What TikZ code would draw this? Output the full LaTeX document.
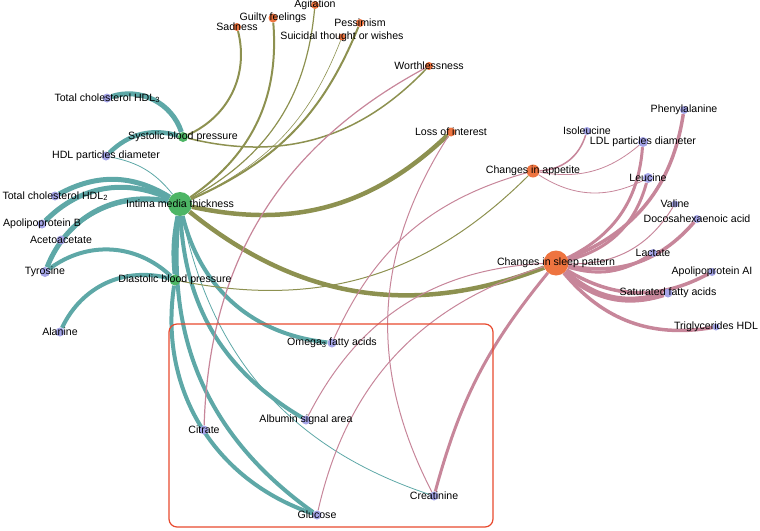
\documentclass[tikz,border=0pt]{standalone}
\usepackage{fontspec}
\setmainfont{Liberation Sans}
\usetikzlibrary{backgrounds}
\definecolor{tealc}{HTML}{5EA8A7}
\definecolor{olivec}{HTML}{8D9150}
\definecolor{pinkc}{HTML}{C7869A}
\definecolor{greenc}{HTML}{4DB565}
\definecolor{orangec}{HTML}{EE7440}
\definecolor{bluec}{HTML}{A5A5E8}
\definecolor{redc}{HTML}{E8492E}
\newcommand{\subthree}{\raisebox{-0.25ex}{\fontsize{7.5}{8}\selectfont 3}}
\newcommand{\subtwo}{\raisebox{-0.25ex}{\fontsize{7.5}{8}\selectfont 2}}
\tikzset{
  gnode/.style={circle, fill=greenc, inner sep=0, minimum size=#1},
  onode/.style={circle, fill=orangec, inner sep=0, minimum size=#1},
  bnode/.style={circle, fill=bluec, inner sep=0, minimum size=#1},
  lab/.style={font=\fontsize{10.6}{12}\selectfont, inner sep=0, text=black},
  te/.style={draw=tealc, line width=#1},
  ol/.style={draw=olivec, line width=#1},
  pk/.style={draw=pinkc, line width=#1},
  frame/.style={draw=redc, line width=1.2pt, rounded corners=8pt}
}
\begin{document}
\begin{tikzpicture}[x=1pt,y=-1pt]
\useasboundingbox (0,0) rectangle (760,530);
% nodes
\node[gnode=24pt] (imt) at (180,204) {};
\node[gnode=10pt] (sys) at (183,137) {};
\node[gnode=11pt] (dia) at (175,280) {};
\node[bnode=9pt] (hdlpd) at (106,156) {};
\node[bnode=9pt] (hdl3) at (107,98) {};
\node[bnode=9pt] (hdl2) at (55,196) {};
\node[bnode=9pt] (apob) at (42,224) {};
\node[bnode=9pt] (aceto) at (61,240) {};
\node[bnode=10pt] (tyr) at (45,272) {};
\node[bnode=9pt] (ala) at (60,332) {};
\node[onode=8pt] (sad) at (237,27) {};
\node[onode=9pt] (guilty) at (273,18) {};
\node[onode=8pt] (agit) at (315,5) {};
\node[onode=8pt] (pess) at (360,23) {};
\node[onode=7pt] (suic) at (342,37) {};
\node[onode=8pt] (worth) at (429,66) {};
\node[onode=9pt] (loss) at (451,132) {};
\node[onode=13pt] (app) at (533,171) {};
\node[onode=25pt] (sleep) at (556,263) {};
\node[bnode=8pt] (iso) at (587,131) {};
\node[bnode=10pt] (ldl) at (643,142) {};
\node[bnode=8pt] (phe) at (684,110) {};
\node[bnode=10pt] (leu) at (648,178) {};
\node[bnode=7pt] (val) at (675,204) {};
\node[bnode=8pt] (dha) at (697,219) {};
\node[bnode=8pt] (lac) at (653,253) {};
\node[bnode=8pt] (apoai) at (712,272) {};
\node[bnode=9pt] (sfa) at (668,293) {};
\node[bnode=7pt] (tg) at (716,327) {};
\node[bnode=9pt] (omega) at (332,343) {};
\node[bnode=9pt] (alb) at (306,420) {};
\node[bnode=9pt] (cit) at (204,430) {};
\node[bnode=9pt] (creat) at (434,496) {};
\node[bnode=9pt] (glu) at (317,515) {};
\begin{scope}[on background layer]
% teal edges
\draw[te=5pt] (hdl3) to[bend left=45] (sys);
\draw[te=4.5pt] (sys) to[bend right=30] (hdlpd);
\draw[te=0.8pt] (hdlpd) to[bend left=20] (imt);
\draw[te=5pt] (hdl2) to[bend left=30] (imt);
\draw[te=5pt] (apob) to[bend left=35] (imt);
\draw[te=0.8pt] (aceto) to[bend left=25] (imt);
\draw[te=5pt] (tyr) to[bend left=40] (imt);
\draw[te=4pt] (tyr) to[bend left=40] (dia);
\draw[te=4pt] (ala) to[bend left=40] (dia);
\draw[te=4pt] (imt) to[bend right=8] (dia);
\draw[te=4pt] (imt) to[bend right=35] (omega);
\draw[te=4pt] (imt) to[bend right=28] (alb);
\draw[te=0.8pt] (imt) to[bend right=30] (creat);
\draw[te=4pt] (dia) to[bend right=40] (glu);
\draw[te=4pt] (imt) to[bend right=30] (glu);
% olive edges
\draw[ol=2pt] (sad) to[bend left=40] (sys);
\draw[ol=2pt] (guilty) to[bend left=30] (imt);
\draw[ol=1.2pt] (agit) to[bend left=28] (imt);
\draw[ol=0.6pt] (suic) to[bend left=22] (imt);
\draw[ol=2pt] (pess) to[bend left=22] (imt);
\draw[ol=1.5pt] (worth) to[bend left=30] (sys);
\draw[ol=4.5pt] (loss) to[bend left=28] (imt);
\draw[ol=4.5pt] (sleep) to[bend left=30] (imt);
\draw[ol=1pt] (app) to[bend left=28] (dia);
% pink edges
\draw[pk=1.2pt] (worth) to[bend right=30] (cit);
\draw[pk=1pt] (loss) to[bend right=30] (creat);
\draw[pk=1pt] (app) to[bend right=25] (omega);
\draw[pk=1pt] (sleep) to[bend right=30] (alb);
\draw[pk=1pt] (sleep) to[bend right=30] (glu);
\draw[pk=3pt] (sleep) to[bend right=12] (creat);
\draw[pk=3.5pt] (sleep) to[bend right=30] (phe);
\draw[pk=3pt] (sleep) to[bend right=30] (ldl);
\draw[pk=3pt] (sleep) to[bend right=30] (leu);
\draw[pk=1pt] (sleep) to[bend right=30] (val);
\draw[pk=3.5pt] (sleep) to[bend right=30] (dha);
\draw[pk=3pt] (sleep) to[bend right=25] (lac);
\draw[pk=3.5pt] (sleep) to[bend right=30] (apoai);
\draw[pk=6pt] (sleep) to[bend right=30] (sfa);
\draw[pk=3.5pt] (sleep) to[bend right=30] (tg);
\draw[pk=1.5pt] (app) to[bend right=35] (iso);
\draw[pk=0.8pt] (app) to[bend right=25] (ldl);
\draw[pk=0.8pt] (app) to[bend right=30] (leu);
\end{scope}
% frame
\draw[frame] (169,324) rectangle (493,527);
% labels
\node[lab] (imtL) at (imt) {Intima media thickness};
\node[lab] (sysL) at (sys) {Systolic blood pressure};
\node[lab] (diaL) at (dia) {Diastolic blood pressure};
\node[lab] (hdlpdL) at (hdlpd) {HDL particles diameter};
\node[lab] (hdl3L) at (hdl3) {Total cholesterol HDL\subthree};
\node[lab] (hdl2L) at (hdl2) {Total cholesterol HDL\subtwo};
\node[lab] (apobL) at (apob) {Apolipoprotein B};
\node[lab] (acetoL) at (aceto) {Acetoacetate};
\node[lab] (tyrL) at (tyr) {Tyrosine};
\node[lab] (alaL) at (ala) {Alanine};
\node[lab] (sadL) at (sad) {Sadness};
\node[lab] (guiltyL) at (guilty) {Guilty feelings};
\node[lab] (agitL) at (agit) {Agitation};
\node[lab] (pessL) at (pess) {Pessimism};
\node[lab] (suicL) at (suic) {Suicidal thought or wishes};
\node[lab] (worthL) at (worth) {Worthlessness};
\node[lab] (lossL) at (loss) {Loss of interest};
\node[lab] (appL) at (app) {Changes in appetite};
\node[lab] (sleepL) at (sleep) {Changes in sleep pattern};
\node[lab] (isoL) at (iso) {Isoleucine};
\node[lab] (ldlL) at (ldl) {LDL particles diameter};
\node[lab] (pheL) at (phe) {Phenylalanine};
\node[lab] (leuL) at (leu) {Leucine};
\node[lab] (valL) at (val) {Valine};
\node[lab] (dhaL) at (dha) {Docosahexaenoic acid};
\node[lab] (lacL) at (lac) {Lactate};
\node[lab] (apoaiL) at (apoai) {Apolipoprotein AI};
\node[lab] (sfaL) at (sfa) {Saturated fatty acids};
\node[lab] (tgL) at (tg) {Triglycerides HDL};
\node[lab] (omegaL) at (omega) {Omega\subthree{} fatty acids};
\node[lab] (albL) at (alb) {Albumin signal area};
\node[lab] (citL) at (cit) {Citrate};
\node[lab] (creatL) at (creat) {Creatinine};
\node[lab] (gluL) at (glu) {Glucose};
\end{tikzpicture}
\end{document}
